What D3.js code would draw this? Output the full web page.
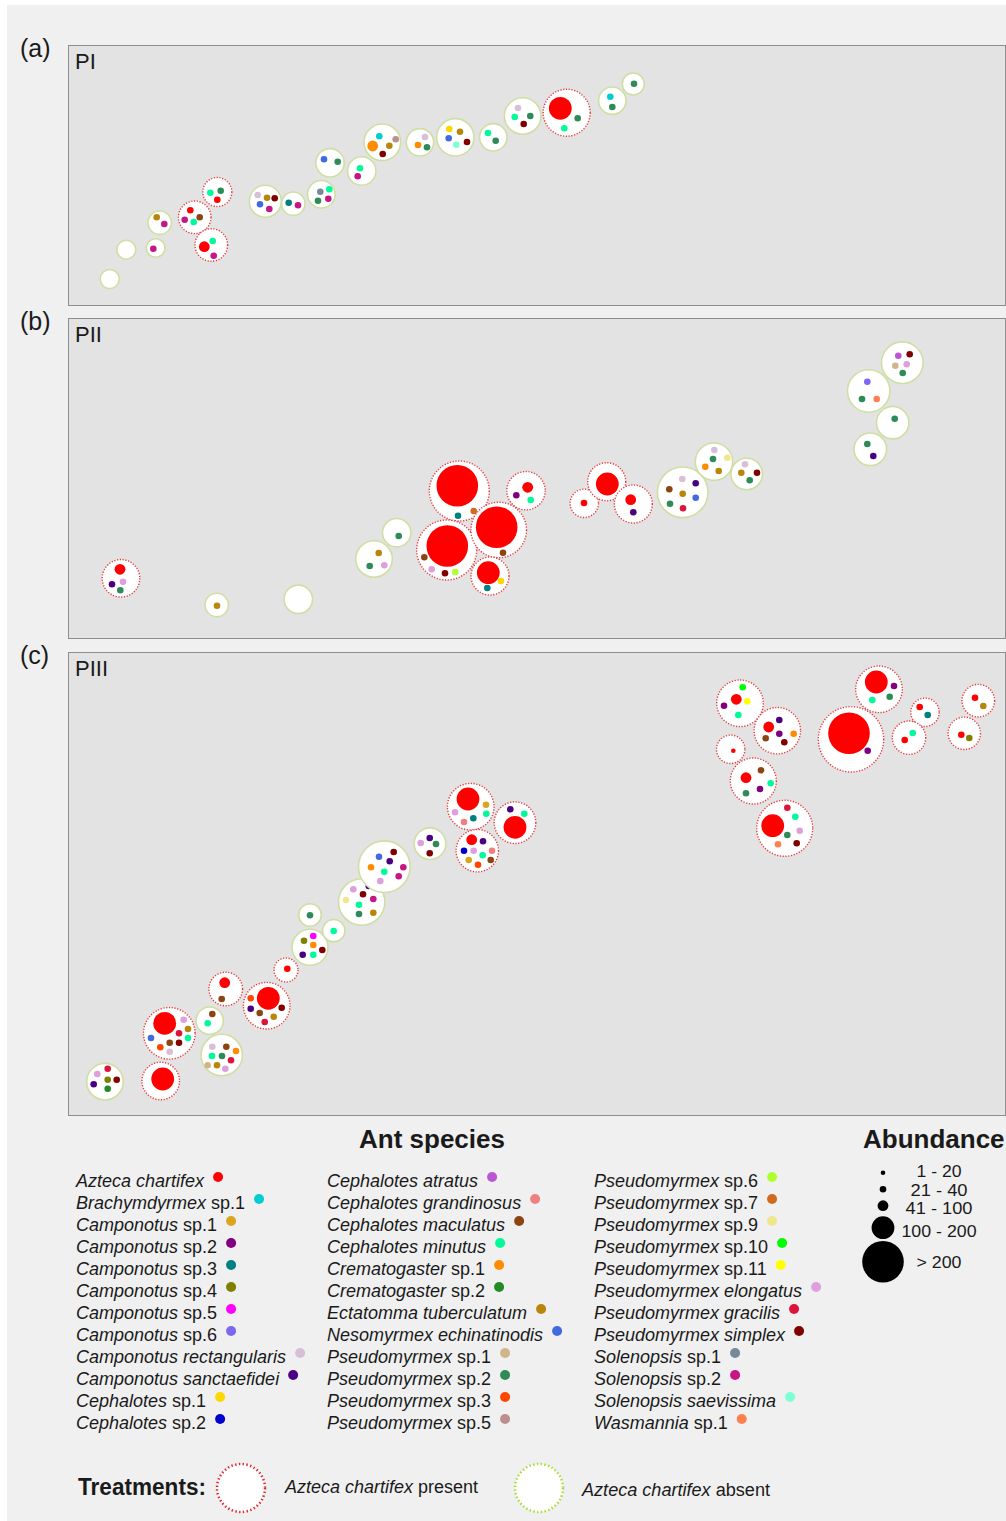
<!DOCTYPE html>
<html>
<head>
<meta charset="utf-8">
<script src="https://cdn.jsdelivr.net/npm/d3@7"></script>
<style>
  body { margin: 0; background: #fff; }
  svg { display: block; }
  text { font-family: "Liberation Sans", Arial, sans-serif; fill: #1a1a1a; }
</style>
</head>
<body>
<svg id="chart" width="1006" height="1521"></svg>
<script>
// Species codes, names (italic part, plain part) and colours
const speciesCodes = ['AC','B1','C1','C2','C3','C4','C5','C6','CR','CS','Ce1','Ce2',
  'CA','CG','CM','CMi','Cr1','Cr2','ET','NE','P1','P2','P3','P5',
  'P6','P7','P9','P10','P11','PE','PG','PS','S1','S2','SS','W1'];
const speciesNames = [
  ['Azteca chartifex',''], ['Brachymdyrmex',' sp.1'], ['Camponotus',' sp.1'], ['Camponotus',' sp.2'],
  ['Camponotus',' sp.3'], ['Camponotus',' sp.4'], ['Camponotus',' sp.5'], ['Camponotus',' sp.6'],
  ['Camponotus rectangularis',''], ['Camponotus sanctaefidei',''], ['Cephalotes',' sp.1'], ['Cephalotes',' sp.2'],
  ['Cephalotes atratus',''], ['Cephalotes grandinosus',''], ['Cephalotes maculatus',''], ['Cephalotes minutus',''],
  ['Crematogaster',' sp.1'], ['Crematogaster',' sp.2'], ['Ectatomma tuberculatum',''], ['Nesomyrmex echinatinodis',''],
  ['Pseudomyrmex',' sp.1'], ['Pseudomyrmex',' sp.2'], ['Pseudomyrmex',' sp.3'], ['Pseudomyrmex',' sp.5'],
  ['Pseudomyrmex',' sp.6'], ['Pseudomyrmex',' sp.7'], ['Pseudomyrmex',' sp.9'], ['Pseudomyrmex',' sp.10'],
  ['Pseudomyrmex',' sp.11'], ['Pseudomyrmex elongatus',''], ['Pseudomyrmex gracilis',''], ['Pseudomyrmex simplex',''],
  ['Solenopsis',' sp.1'], ['Solenopsis',' sp.2'], ['Solenopsis saevissima',''], ['Wasmannia',' sp.1']
];
const speciesColors = ['#ff0000','#00ced1','#daa520','#800080','#008080','#808000','#ff00ff','#7b68ee',
  '#d8bfd8','#4b0082','#ffd700','#0000cd',
  '#ba55d3','#f08080','#8b4513','#00fa9a','#ff8c00','#228b22','#b8860b','#4169e1',
  '#d2b48c','#2e8b57','#ff4500','#bc8f8f',
  '#adff2f','#d2691e','#f0e68c','#00ff00','#ffff00','#dda0dd','#dc143c','#800000',
  '#778899','#c71585','#7fffd4','#ff7f50'];

// Abundance classes
const abundanceClasses = [1, 2, 3, 4, 5];
const abundanceLabels = ['1 - 20', '21 - 40', '41 - 100', '100 - 200', '> 200'];

// Plants: [x, y, size, treatment (P = Azteca present, A = absent), dots [x, y, species, class (default 2)]]
const plantsPI = [
  [109.7, 279, 9.5, 'A', []],
  [126.3, 249.7, 9.5, 'A', []],
  [155.7, 248, 9.3, 'A', [[153.3,248.7,'S2']]],
  [159.7, 222.7, 11.7, 'A', [[156.7,217.3,'ET'],[164.3,224,'S2']]],
  [194.7, 217.3, 16.3, 'P', [[190.3,210.3,'AC'],[184.7,219.7,'S2'],[193.7,222,'CMi'],[199.7,217.3,'CM']]],
  [217.3, 192, 14.5, 'P', [[210.3,192.7,'CMi'],[220.7,190.7,'P2'],[217.3,199.7,'AC']]],
  [211.3, 245, 16.3, 'P', [[204.3,246.7,'AC',3],[212.7,241,'CMi'],[213.7,255.7,'S2']]],
  [265.3, 201.3, 16, 'A', [[257.7,195,'CR'],[267,197.7,'ET'],[274.7,198.3,'PS'],[260,204.3,'NE'],[269.3,209,'S2']]],
  [293.3, 203.7, 11.7, 'A', [[288.7,202.7,'C3'],[298,205.3,'S2']]],
  [321.3, 194.3, 13.8, 'A', [[320.3,191.7,'S1'],[329.3,189.3,'CMi'],[318,200.7,'P2'],[328.3,198.7,'S2']]],
  [330, 162.8, 14.2, 'A', [[324,159.3,'NE'],[337.7,161.7,'P2']]],
  [361.7, 171, 14.2, 'A', [[360,168.3,'CMi'],[357.7,176.3,'S2']]],
  [382.3, 142.3, 18.3, 'A', [[379.3,136.3,'B1'],[372.7,146,'Cr1',3],[389.3,145.7,'ET'],[395.7,139.3,'P5'],[382.7,154,'PS']]],
  [420, 142.3, 13.7, 'A', [[425,137,'CR'],[418,145,'Cr1'],[427,147.3,'P2']]],
  [455.3, 137.3, 18.7, 'A', [[449.3,129,'Ce1'],[460,131.7,'ET'],[448.7,138.3,'NE'],[456.3,144.7,'SS'],[467,142,'PS']]],
  [493.3, 137.3, 13.7, 'A', [[488,133,'CMi'],[495.7,140.7,'P2']]],
  [522.7, 116, 18.3, 'A', [[518,108,'CR'],[514.7,117,'CMi'],[530.3,116,'P2'],[523.7,124,'PS']]],
  [566.7, 112.7, 23.5, 'P', [[560.3,108.3,'AC',4],[577.7,118.3,'P2'],[564.3,128.3,'CMi']]],
  [612.3, 100.7, 13.7, 'A', [[610.3,96.7,'B1'],[612.3,107,'P2']]],
  [633.3, 84, 11, 'A', [[634,83.7,'P2']]]
];

const plantsPII = [
  [121, 578.3, 18.8, 'P', [[120,569.3,'AC',3],[112,584.3,'CS'],[123,581.7,'PE'],[120.3,590.3,'P2']]],
  [216.7, 605, 11.7, 'A', [[217,605.7,'ET']]],
  [298.3, 599.3, 14.2, 'A', []],
  [374, 559, 18.3, 'A', [[378.7,553,'ET'],[369.7,566,'P2'],[384.3,565.3,'PE']]],
  [396.7, 532.7, 14.2, 'A', [[398.7,536,'P2']]],
  [459.3, 491, 30, 'P', [[457.3,485.7,'AC',5],[458,515.7,'C3'],[473.7,511,'P7']]],
  [526, 490.7, 19.2, 'P', [[527.7,487.3,'AC',3],[516.3,495.3,'C2'],[530.7,500,'CMi']]],
  [446.7, 550, 30, 'P', [[447.3,546,'AC',5],[424.3,557.3,'CM'],[431.7,569.3,'PE'],[445,573.3,'PS'],[455.3,572,'P6']]],
  [498.7, 530, 27.8, 'P', [[496.7,527.3,'AC',5],[503,552.7,'CM']]],
  [490, 576, 19, 'P', [[488.3,572.7,'AC',4],[501,581,'Ce1'],[487.3,588,'C3']]],
  [584.3, 503.3, 14.2, 'P', [[584,503,'AC']]],
  [606.7, 481.7, 19, 'P', [[607.3,484,'AC',4]]],
  [633.3, 504, 19, 'P', [[630.7,499.7,'AC',3],[633.3,512.3,'CS']]],
  [682.7, 492.3, 25.3, 'A', [[682.3,479,'CR'],[695.7,483.3,'CS'],[669.3,489.3,'CM'],[682.7,493.7,'ET'],[695.7,497.7,'NE'],[670,503.7,'P2'],[683,508.3,'PG']]],
  [714, 461.7, 18.7, 'A', [[714.3,450,'CR'],[713,459,'P2'],[705.3,466.7,'Cr1'],[727.3,457.7,'P9'],[718.7,471,'ET']]],
  [746.7, 474, 15.8, 'A', [[745,464.3,'CR'],[741.3,472.7,'ET'],[757,472.7,'PS'],[749.7,480.3,'P2']]],
  [868.7, 391, 21.2, 'A', [[867.3,381.7,'C6'],[862,399,'P2'],[876.7,399,'W1']]],
  [902.3, 362.7, 20.8, 'A', [[898.3,355.7,'CA'],[909.7,354.3,'PS'],[895.3,365.7,'P1'],[906.7,364.3,'PE'],[902.7,373,'P2']]],
  [892.7, 422.7, 16.2, 'A', [[894.7,418.7,'P2']]],
  [870.3, 449.3, 16.3, 'A', [[867.3,444,'P2'],[873.3,456,'CS']]]
];

const plantsPIII = [
  [105, 1081.7, 18.3, 'A', [[107.7,1068.7,'PG'],[97.3,1074,'PE'],[107.7,1079.7,'C4'],[116.7,1079.7,'PS'],[93.7,1084.3,'CS'],[107.7,1088.7,'Cr2']]],
  [160.7, 1081, 18.8, 'P', [[162.7,1079,'AC',4]]],
  [169.3, 1033.3, 25.8, 'P', [[164.7,1023.3,'AC',4],[183.7,1019.7,'PE'],[179,1033.3,'PG'],[188,1029,'ET'],[188,1038,'CMi'],[151,1038,'NE'],[169.7,1042.7,'CM'],[179,1042.7,'PS'],[160.3,1047.3,'P3'],[169.7,1051.7,'CR']]],
  [209.7, 1020.7, 13.7, 'A', [[212.3,1014,'CM'],[207.7,1023.3,'CMi']]],
  [221.7, 1055, 20.7, 'A', [[212.3,1046.7,'CR'],[226.3,1046.7,'CM'],[236,1051,'Cr1'],[212,1056,'CMi'],[222,1056,'P2'],[231,1060.3,'PG'],[207.7,1065.3,'P1'],[217,1065.3,'ET'],[225.3,1068.7,'PE']]],
  [225.7, 989, 16.8, 'P', [[224.7,982.7,'AC',3],[221.7,999,'CM']]],
  [266.7, 1005.7, 23.3, 'P', [[268.3,998.3,'AC',4],[250.7,998.3,'P3'],[250.7,1008.7,'CS'],[259.7,1013,'CM'],[273.7,1016.7,'ET'],[281.7,1007.7,'PS'],[264.7,1022,'PG']]],
  [286, 970, 12, 'P', [[287.3,968.7,'AC']]],
  [310, 947.3, 18, 'A', [[304,940.7,'C4'],[313.3,936,'C5'],[313.3,945,'Cr1'],[302.7,954.7,'CS'],[313.3,954.7,'CMi'],[322.3,950,'PS']]],
  [310, 915, 11.3, 'A', [[310,915.3,'P2']]],
  [333.7, 930.7, 11.2, 'A', [[333.7,931,'CMi']]],
  [361.7, 902, 23.2, 'A', [[353.3,889.3,'PE'],[368.7,886,'CS'],[363,894.3,'PS'],[346,900,'P9'],[373.3,899,'S2'],[359,904.7,'CMi'],[359,914,'P2'],[373.3,912.7,'ET']]],
  [384.3, 866.7, 25.8, 'A', [[379,856.7,'NE'],[393.7,852,'PS'],[389.7,861.3,'CS'],[371,867.3,'Cr1'],[384.3,871.7,'CMi'],[403.3,867.3,'S2'],[398.7,876.3,'S2'],[380.3,881,'PE']]],
  [430, 843.7, 15.8, 'A', [[429.7,838,'CS'],[420.7,843,'PE'],[436,844,'P2'],[429.7,853.3,'PS']]],
  [470.7, 806.7, 23.3, 'P', [[468,799,'AC',4],[486,804.7,'C1'],[486.3,813.7,'CMi'],[455,812.3,'PE'],[473.3,818.3,'C3'],[464,822,'CG']]],
  [515, 822.7, 20.8, 'P', [[515,827.3,'AC',4],[510.3,809.3,'CS'],[524.3,813.7,'CMi']]],
  [477.3, 850.7, 21.2, 'P', [[471.7,839.7,'AC',3],[483,841.3,'CS'],[464,850.7,'Ce2'],[473.7,850.7,'PE'],[482.7,855.3,'CMi'],[492,850.7,'CG'],[468.7,860,'C1'],[478,864.7,'P3'],[490.7,860,'CM']]],
  [740, 703.3, 23.3, 'P', [[736.3,699.3,'AC',3],[742.7,687.3,'P10'],[747.3,701.3,'P11'],[724,705.7,'C2'],[738.3,715,'CMi']]],
  [777.3, 730.7, 23.2, 'P', [[768.7,727,'AC',3],[779.3,720,'CS'],[779.3,733.7,'C2'],[793.7,733.7,'Cr1'],[765.7,738.3,'CM'],[784.3,742.3,'PS']]],
  [730.7, 749.3, 14.2, 'P', [[733.3,750.7,'AC',1]]],
  [753.3, 781, 23, 'P', [[746,777.7,'AC',3],[761,770.3,'CM'],[770.7,783.3,'CMi'],[760,789,'C2'],[746,793.3,'P2']]],
  [784.7, 828.3, 28, 'P', [[772.7,825.7,'AC',4],[787.3,807.7,'PG'],[795.3,816.7,'CMi'],[799.7,830.7,'PE'],[787.3,835,'P2'],[778,844.3,'W1'],[796.7,843.3,'PS']]],
  [851, 739.3, 32.7, 'P', [[849,733.3,'AC',5],[867.7,750.7,'C2']]],
  [879, 689.3, 23.3, 'P', [[876.3,682,'AC',4],[894,686,'C2'],[889.7,696.7,'P2'],[872.3,700,'CMi']]],
  [925, 712.3, 14.2, 'P', [[919.7,707,'AC'],[927.7,715,'C3']]],
  [909, 737.7, 16.7, 'P', [[904.7,740,'AC'],[912.7,733,'CMi']]],
  [978.3, 700.7, 16.3, 'P', [[975,697.7,'AC'],[983.3,706,'ET']]],
  [964.3, 733.3, 16.2, 'P', [[961.3,734.7,'AC'],[969.3,738,'C4']]]
];

const svg = d3.select('#chart');

// Scales shared by all panels
const color = d3.scaleOrdinal().domain(speciesCodes).range(speciesColors);
const dotRadius = d3.scaleOrdinal().domain(abundanceClasses).range([2.3, 3.3, 5.4, 11.4, 20.8]);
const plantRadius = d3.scaleLinear().domain([0, 40]).range([0, 40]);

const margin = { left: 68, right: 1005 };
const panels = [
  { tag: '(a)', name: 'PI', plants: plantsPI, top: 45, bottom: 305 },
  { tag: '(b)', name: 'PII', plants: plantsPII, top: 318, bottom: 638 },
  { tag: '(c)', name: 'PIII', plants: plantsPIII, top: 652, bottom: 1115 }
];

// Page background
svg.append('rect').attr('width', 1006).attr('height', 1521).attr('fill', '#ffffff');
svg.append('rect').attr('x', 7).attr('y', 5).attr('width', 999).attr('height', 1516).attr('fill', '#f0f0f0');

panels.forEach(p => {
  const x = d3.scaleLinear().domain([margin.left, margin.right]).range([margin.left, margin.right]);
  const y = d3.scaleLinear().domain([p.top, p.bottom]).range([p.top, p.bottom]);

  svg.append('rect')
    .attr('x', margin.left + 0.5).attr('y', p.top + 0.5)
    .attr('width', margin.right - margin.left).attr('height', p.bottom - p.top)
    .attr('fill', '#e3e3e3').attr('stroke', '#8e8e8e').attr('stroke-width', 1);

  svg.append('text')
    .attr('x', 20).attr('y', p.top + 12)
    .attr('font-size', 25)
    .text(p.tag);

  svg.append('text')
    .attr('x', 75).attr('y', p.top + 24)
    .attr('font-size', 22)
    .text(p.name);

  const plant = svg.append('g').selectAll('g')
    .data(p.plants)
    .enter()
    .append('g');

  plant.append('circle')
    .attr('cx', d => x(d[0]))
    .attr('cy', d => y(d[1]))
    .attr('r', d => plantRadius(d[2]))
    .attr('fill', '#ffffff')
    .attr('stroke', d => d[3] === 'P' ? '#e5373a' : '#cfdfa3')
    .attr('stroke-width', d => d[3] === 'P' ? 1.4 : 1.6)
    .attr('stroke-dasharray', d => d[3] === 'P' ? '1.2 1.6' : null);

  plant.selectAll('.dot')
    .data(d => d[4])
    .enter()
    .append('circle')
    .attr('class', 'dot')
    .attr('cx', d => x(d[0]))
    .attr('cy', d => y(d[1]))
    .attr('r', d => dotRadius(d[3] || 2))
    .attr('fill', d => color(d[2]));
});

// Ant species legend
svg.append('text')
  .attr('x', 432).attr('y', 1148)
  .attr('text-anchor', 'middle')
  .attr('font-size', 26).attr('font-weight', 'bold')
  .text('Ant species');

const colX = [76, 327, 594];
const legendItems = svg.append('g').selectAll('g')
  .data(speciesCodes)
  .enter()
  .append('g')
  .attr('transform', (d, i) => `translate(${colX[Math.floor(i / 12)]},${1187 + (i % 12) * 22})`);

legendItems.each(function(code, i) {
  const g = d3.select(this);
  const label = g.append('text').attr('font-size', 18);
  label.append('tspan').attr('font-style', 'italic').text(speciesNames[i][0]);
  if (speciesNames[i][1]) label.append('tspan').text(speciesNames[i][1]);
  const w = label.node().getComputedTextLength();
  g.append('circle')
    .attr('cx', w + 14).attr('cy', -10)
    .attr('r', 5)
    .attr('fill', color(code));
});

// Abundance legend
svg.append('text')
  .attr('x', 863).attr('y', 1148)
  .attr('font-size', 26).attr('font-weight', 'bold')
  .text('Abundance');

const abundY = [1172.7, 1189.3, 1205.7, 1227.7, 1261.7];
const abundTextY = [1177, 1195.5, 1214, 1237, 1268];
const abund = svg.append('g').selectAll('g')
  .data(abundanceClasses)
  .enter()
  .append('g');

abund.append('circle')
  .attr('cx', 883)
  .attr('cy', (d, i) => abundY[i])
  .attr('r', d => dotRadius(d))
  .attr('fill', '#000');

abund.append('text')
  .attr('x', 939)
  .attr('y', (d, i) => abundTextY[i])
  .attr('text-anchor', 'middle')
  .attr('font-size', 16)
  .attr('textLength', (d, i) => [45, 57, 67, 75, 45][i])
  .attr('lengthAdjust', 'spacingAndGlyphs')
  .text((d, i) => abundanceLabels[i]);

// Treatments legend
svg.append('text')
  .attr('x', 78).attr('y', 1495)
  .attr('font-size', 23).attr('font-weight', 'bold')
  .attr('textLength', 128).attr('lengthAdjust', 'spacingAndGlyphs')
  .text('Treatments:');

const treatments = [
  { cx: 241, stroke: '#e3242b', tx: 285, ty: 1493, w: 193, rest: ' present' },
  { cx: 539, stroke: '#a6dd2a', tx: 582, ty: 1496, w: 188, rest: ' absent' }
];

treatments.forEach(t => {
  svg.append('circle')
    .attr('cx', t.cx).attr('cy', 1488).attr('r', 24)
    .attr('fill', '#ffffff')
    .attr('stroke', t.stroke).attr('stroke-width', 2.5)
    .attr('stroke-dasharray', '1.4 2.4');
  const txt = svg.append('text')
    .attr('x', t.tx).attr('y', t.ty)
    .attr('font-size', 18)
    .attr('textLength', t.w).attr('lengthAdjust', 'spacingAndGlyphs');
  txt.append('tspan').attr('font-style', 'italic').text('Azteca chartifex');
  txt.append('tspan').text(t.rest);
});
</script>
</body>
</html>
